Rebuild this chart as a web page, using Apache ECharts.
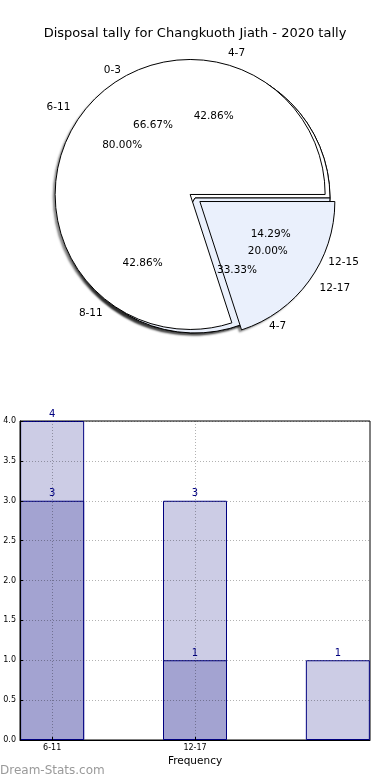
<!DOCTYPE html>
<html><head><meta charset="utf-8">
<script src="https://cdn.jsdelivr.net/npm/echarts@6/dist/echarts.min.js"></script>
<style>html,body{margin:0;padding:0;background:#fff}#c{width:390px;height:780px}</style>
</head><body><div id="c"></div>
<script>
// ---- data ----
const titleText = 'Disposal tally for Changkuoth Jiath - 2020 tally';
const pie1Names = ['4-7', '8-11', '12-15'];
const pie1Values = [3, 3, 1];
const pie2Names = ['0-3', '4-7'];
const pie2Values = [2, 1];
const pie3Names = ['6-11', '12-17'];
const pie3Values = [4, 1];
const barCategories = ['6-11', '12-17'];
const barLightValues = [4, 3, 1];
const barDarkValues = [3, 1, null];
const xAxisName = 'Frequency';
const watermark = 'Dream-Stats.com';

// ---- style ----
const FONT = 'DejaVu Sans';
const PIE_CENTER = [195, 198];
const R = 135;
const WHITE = '#ffffff';
const BLUE = '#eaf0fc';

function pieBase(names, values, explode, z, radius) {
  return {
    type: 'pie',
    center: PIE_CENTER,
    radius: [0, radius],
    startAngle: 0,
    clockwise: false,
    selectedMode: 'multiple',
    selectedOffset: 6,
    avoidLabelOverlap: false,
    silent: true,
    animation: false,
    emphasis: { disabled: true },
    z: z,
    data: names.map((n, i) => ({ name: n, value: values[i], selected: !!explode[i] }))
  };
}
function shadowPie(names, values, explode) {
  const s = pieBase(names, values, explode, 1, R);
  s.itemStyle = { color: '#fff', borderWidth: 0, shadowBlur: 2, shadowOffsetX: -2.5, shadowOffsetY: 2.5, shadowColor: 'rgba(0,0,0,0.45)' };
  s.label = { show: false }; s.labelLine = { show: false };
  return s;
}
function mainPie(names, values, explode, colors, z) {
  const s = pieBase(names, values, explode, z, R);
  s.data.forEach((d, i) => { d.itemStyle = { color: colors[i % colors.length] }; });
  s.itemStyle = { borderColor: '#000', borderWidth: 1 };
  s.label = { show: false }; s.labelLine = { show: false };
  return s;
}
function namePie(names, values, explode) {
  const s = pieBase(names, values, explode, 8, R);
  s.itemStyle = { color: 'rgba(0,0,0,0)', borderWidth: 0 };
  s.label = { show: true, position: 'outside', formatter: '{b}', fontSize: 10.5, color: '#000', fontFamily: FONT, distanceToLabelLine: 0 };
  s.labelLine = { show: false, length: 13, length2: 0 };
  return s;
}
function pctPie(names, values, explode) {
  const total = values.reduce((a, b) => a + b, 0);
  const s = pieBase(names, values, explode, 8, R * 1.2);
  s.itemStyle = { color: 'rgba(0,0,0,0)', borderWidth: 0 };
  s.label = { show: true, position: 'inside', formatter: p => (p.value / total * 100).toFixed(2) + '%', fontSize: 10.5, color: '#000', fontFamily: FONT };
  s.labelLine = { show: false };
  return s;
}

const pie1Explode = [false, false, false];
const pie2Explode = [false, false];
const pie3Explode = [true, true];

const series = [
  shadowPie(pie1Names, pie1Values, pie1Explode),
  shadowPie(pie2Names, pie2Values, pie2Explode),
  shadowPie(pie3Names, pie3Values, pie3Explode),
  mainPie(pie1Names, pie1Values, pie1Explode, [WHITE, BLUE, BLUE], 2),
  mainPie(pie2Names, pie2Values, pie2Explode, [WHITE, BLUE], 3),
  mainPie(pie3Names, pie3Values, pie3Explode, [WHITE, BLUE], 4),
  namePie(pie1Names, pie1Values, pie1Explode),
  namePie(pie2Names, pie2Values, pie2Explode),
  namePie(pie3Names, pie3Values, pie3Explode),
  pctPie(pie1Names, pie1Values, pie1Explode),
  pctPie(pie2Names, pie2Values, pie2Explode),
  pctPie(pie3Names, pie3Values, pie3Explode),
  {
    type: 'bar', xAxisIndex: 0, yAxisIndex: 0,
    data: barLightValues.map((v, i) => [i, v]),
    barWidth: 64, barGap: '-100%',
    itemStyle: { color: '#ccccE5', borderColor: '#000080', borderWidth: 1 },
    label: { show: true, position: 'top', distance: 2, color: '#000080', fontSize: 10, fontFamily: FONT },
    silent: true, animation: false, z: 2
  },
  {
    type: 'bar', xAxisIndex: 0, yAxisIndex: 0,
    data: barDarkValues.map((v, i) => [i, v]).filter(d => d[1] != null),
    barWidth: 64, barGap: '-100%',
    itemStyle: { color: '#a3a3d1', borderColor: '#000080', borderWidth: 1 },
    label: { show: true, position: 'top', distance: 2, color: '#000080', fontSize: 10, fontFamily: FONT },
    silent: true, animation: false, z: 3
  }
];

const tickIdx = barCategories.map((c, i) => i);
const gridLine = { show: true, lineStyle: { color: 'rgba(0,0,0,0.3)', type: [1, 2], width: 1 } };

const option = {
  backgroundColor: '#fff',
  animation: false,
  textStyle: { fontFamily: FONT },
  title: {
    text: titleText, left: 'center', top: 22,
    textStyle: { fontSize: 13, fontWeight: 'normal', color: '#000', fontFamily: FONT }
  },
  grid: {
    left: 20, right: 20, top: 421, bottom: 40,
    show: true, borderColor: '#000', borderWidth: 1,
    containLabel: false, outerBoundsMode: 'none'
  },
  xAxis: {
    type: 'value', min: -0.225, max: 2.225, z: 10,
    axisLine: { show: true, onZero: false, lineStyle: { color: '#000' } },
    axisTick: { show: true, inside: true, length: 3, customValues: tickIdx, lineStyle: { color: '#000' } },
    axisLabel: { customValues: tickIdx, formatter: v => barCategories[Math.round(v)] || '', fontSize: 8, color: '#000', margin: 4 },
    splitLine: gridLine,
    name: xAxisName, nameLocation: 'middle', nameGap: 16,
    nameTextStyle: { fontSize: 10.5, color: '#000', fontFamily: FONT }
  },
  yAxis: {
    type: 'value', min: 0, max: 4, interval: 0.5, z: 10,
    axisLine: { show: true, onZero: false, lineStyle: { color: '#000' } },
    axisTick: { show: true, inside: true, length: 3, lineStyle: { color: '#000' } },
    axisLabel: { formatter: v => v.toFixed(1), fontSize: 8, color: '#000', margin: 4 },
    splitLine: gridLine
  },
  graphic: [{
    type: 'text', left: 0, top: 765,
    style: { text: watermark, fontSize: 12, fill: '#9a9a9a', fontFamily: FONT }
  }],
  series: series
};

const chart = echarts.init(document.getElementById('c'), null, { renderer: 'canvas' });
chart.setOption(option);
</script>
</body></html>
